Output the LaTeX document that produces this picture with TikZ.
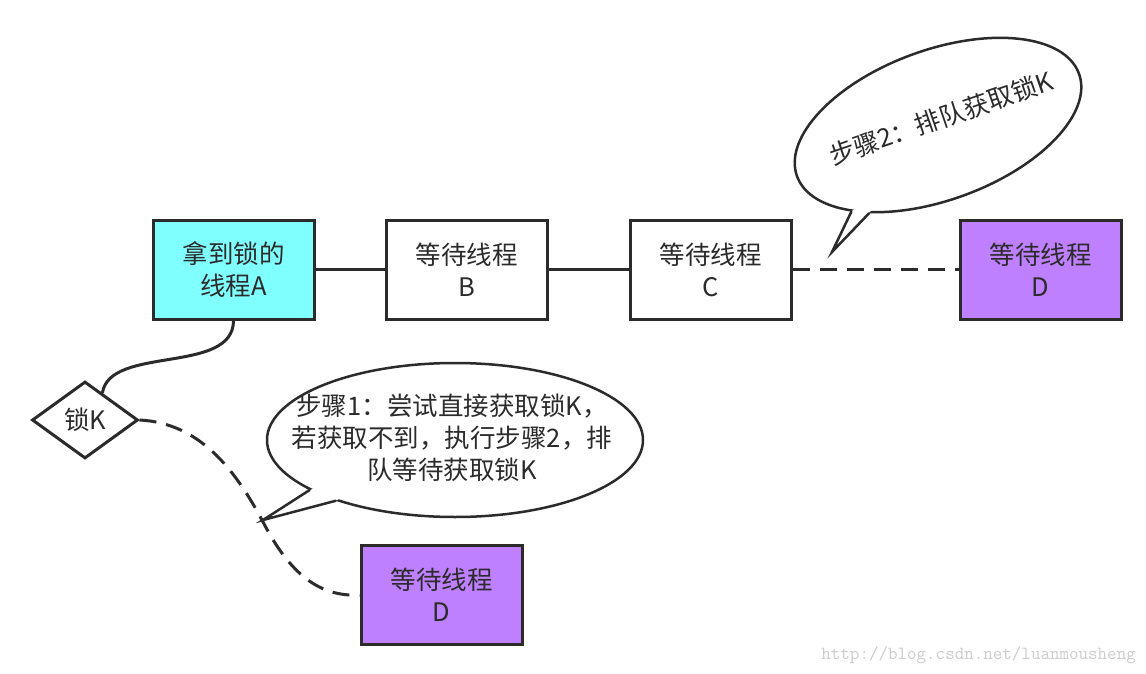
\documentclass[tikz,border=0pt]{standalone}
\usepackage{fontspec}
\setmainfont{Noto Sans CJK SC}
\usetikzlibrary{shapes.geometric,calc}
\definecolor{ink}{HTML}{2B2B2B}
\definecolor{cyanfill}{HTML}{80FFFF}
\definecolor{purplefill}{HTML}{BF80FF}
\definecolor{wmgray}{HTML}{CCCCCC}
\begin{document}
\begin{tikzpicture}[x=1pt,y=-1pt,
  txt/.style={text=ink, font=\fontsize{25.5}{32}\selectfont},
  box/.style={txt, draw=ink, line width=3pt, minimum width=161pt, minimum height=99pt, inner sep=0pt, align=center},
  conn/.style={draw=ink, line width=3pt},
  dconn/.style={conn, dash pattern=on 17pt off 10pt},
  bubble/.style={ellipse, draw=ink, line width=2.5pt, fill=white, inner sep=0pt},
  bubline/.style={draw=ink, line width=2.5pt, line join=miter, line cap=round}]
\useasboundingbox (0,0) rectangle (1146,674);
\fill[white] (0,0) rectangle (1146,674);

% boxes
\node[box, fill=cyanfill] (A) at (233.5,269.5) {拿到锁的\\线程A};
\node[box, fill=white] (B) at (466.5,269.5) {等待线程\\B};
\node[box, fill=white] (C) at (710.5,269.5) {等待线程\\C};
\node[box, fill=purplefill] (D1) at (1040.5,269.5) {等待线程\\D};
\node[box, fill=purplefill] (D2) at (441.5,595) {等待线程\\D};

% lock diamond
\node[diamond, txt, draw=ink, line width=3pt, fill=white, minimum width=106pt, minimum height=77pt, inner sep=0pt] (K) at (85,420) {锁K};

% connectors
\draw[conn] (A) -- (B);
\draw[conn] (B) -- (C);
\draw[dconn] (C) -- (D1);
\coordinate (Kne) at ($(K.north)!0.32!(K.east)$);
\draw[conn] (A.south) .. controls (233.5,375) and (110,345) .. (Kne);
\coordinate (mid) at (262,520);
\draw[dconn] (K.east) .. controls (200,423) and (235,470) .. (mid) .. controls (290,575) and (320,597) .. (D2.west);

% bubble 1
\node[bubble, minimum width=376pt, minimum height=154pt] (b1) at (455,440) {};
\coordinate (tip1) at (263,520);
\fill[white] (b1.199) -- (tip1) -- (b1.207) -- ($(b1.center)!0.9!(b1.207)$) -- ($(b1.center)!0.9!(b1.199)$) -- cycle;
\draw[bubline] (b1.199) -- (tip1) -- (b1.207);
\node[txt, align=center] (t1) at (452,438) {步骤1：尝试直接获取锁K，\\若获取不到，执行步骤2，排\\队等待获取锁K};

% bubble 2
\node[bubble, rotate=20, minimum width=300pt, minimum height=150pt] (b2) at (938,125) {};
\coordinate (tip2) at (832,252);
\fill[white] (b2.205) -- (tip2) -- (b2.212) -- ($(b2.center)!0.9!(b2.212)$) -- ($(b2.center)!0.9!(b2.205)$) -- cycle;
\draw[bubline] (b2.205) -- (tip2) -- (b2.212);
\node[txt, rotate=19] (t2) at (941,118) {步骤2：排队获取锁K};

% watermark
\node[text=wmgray, font=\ttfamily\fontsize{18.5}{20}\selectfont, anchor=east, inner sep=0pt] (wm) at (1136,655) {http://blog.csdn.net/luanmousheng};
\end{tikzpicture}
\end{document}
